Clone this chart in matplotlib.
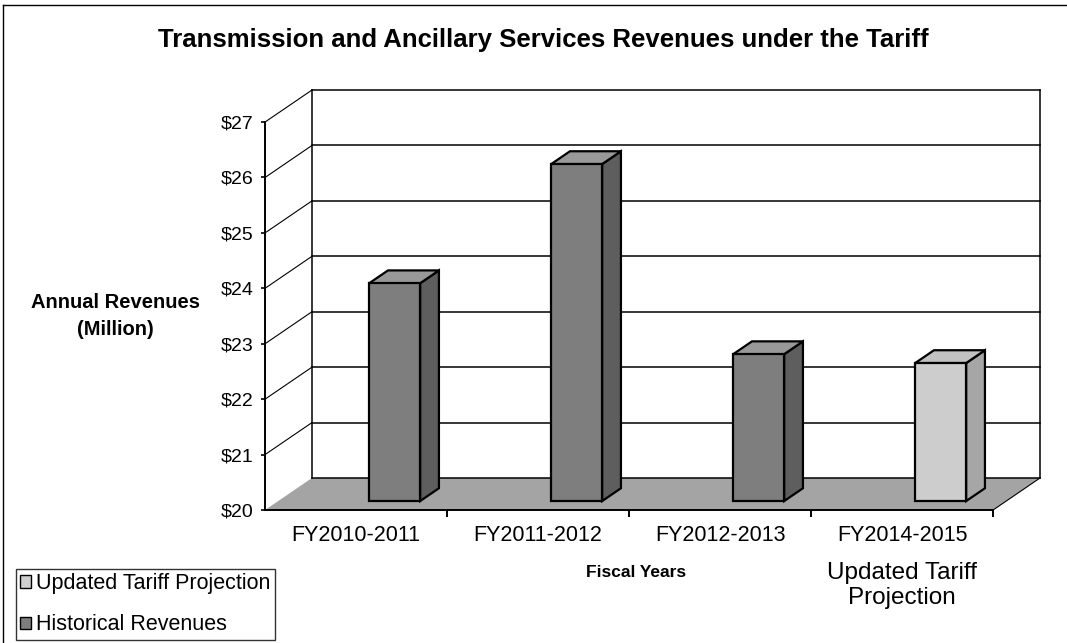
import matplotlib
matplotlib.use("Agg")
import matplotlib.pyplot as plt
from matplotlib.patches import Polygon, Patch
from matplotlib.lines import Line2D
from matplotlib.transforms import blended_transform_factory

plt.rcParams["font.family"] = ["Liberation Sans", "DejaVu Sans"]

# data
categories = ["FY2010-2011", "FY2011-2012", "FY2012-2013", "FY2014-2015"]
revenues = [23.93, 26.08, 22.65, 22.49]
series = ["Historical Revenues", "Historical Revenues", "Historical Revenues",
          "Updated Tariff Projection"]
y_ticks = [20, 21, 22, 23, 24, 25, 26, 27]
y_labels = ["$20", "$21", "$22", "$23", "$24", "$25", "$26", "$27"]

# shading for the fake 3d faces: front, side, top
faces = {
    "Historical Revenues": ("#7e7e7e", "#5e5e5e", "#999999"),
    "Updated Tariff Projection": ("#cdcdcd", "#a6a6a6", "#c2c2c2"),
}

DX, DY = 0.258, 0.578      # depth offset of the back wall, in data units
D0, D1 = 0.28, 0.68        # depth of bar front / back face
BAR_OFF, BAR_W = 0.5, 0.28
YMIN, YMAX = y_ticks[0], y_ticks[-1]

fig = plt.figure(figsize=(10.67, 6.43), dpi=100)
ax = fig.add_axes([0.2484, 0.2068, 0.6823, 0.6034])
n = len(categories)
ax.set_xlim(0, n)
ax.set_ylim(YMIN, YMAX)
ax.patch.set_visible(False)
for s in ["top", "right"]:
    ax.spines[s].set_visible(False)
ax.spines["left"].set_linewidth(1.4)
ax.spines["bottom"].set_linewidth(1.4)
ax.spines["left"].set_zorder(6)
ax.spines["bottom"].set_zorder(6)

lw = 1.1
# floor
floor = Polygon([(0, YMIN), (n, YMIN), (n + DX, YMIN + DY), (DX, YMIN + DY)],
                closed=True, facecolor="#a4a4a4", edgecolor="none",
                clip_on=False, zorder=1)
ax.add_patch(floor)

# back wall grid and left wall diagonals
for t in y_ticks:
    ax.plot([DX, n + DX], [t + DY, t + DY], color="black", lw=lw,
            clip_on=False, zorder=2)
    if t > YMIN:
        ax.plot([0, DX], [t, t + DY], color="black", lw=0.8,
                clip_on=False, zorder=2)
ax.plot([DX, DX], [YMIN + DY, YMAX + DY], color="black", lw=lw,
        clip_on=False, zorder=2)
ax.plot([n + DX, n + DX], [YMIN + DY, YMAX + DY], color="black", lw=lw,
        clip_on=False, zorder=2)
ax.plot([n, n + DX], [YMIN, YMIN + DY], color="black", lw=0.8,
        clip_on=False, zorder=2)

# bars
for i, (v, s) in enumerate(zip(revenues, series)):
    front, side, top = faces[s]
    x0 = i + BAR_OFF
    x1 = x0 + BAR_W
    f = [(x0 + D0 * DX, YMIN + D0 * DY), (x1 + D0 * DX, YMIN + D0 * DY),
         (x1 + D0 * DX, v + D0 * DY), (x0 + D0 * DX, v + D0 * DY)]
    sd = [(x1 + D0 * DX, YMIN + D0 * DY), (x1 + D1 * DX, YMIN + D1 * DY),
          (x1 + D1 * DX, v + D1 * DY), (x1 + D0 * DX, v + D0 * DY)]
    tp = [(x0 + D0 * DX, v + D0 * DY), (x1 + D0 * DX, v + D0 * DY),
          (x1 + D1 * DX, v + D1 * DY), (x0 + D1 * DX, v + D1 * DY)]
    for pts, c in [(sd, side), (tp, top), (f, front)]:
        ax.add_patch(Polygon(pts, closed=True, facecolor=c, edgecolor="black",
                             lw=1.6, joinstyle="miter", clip_on=False, zorder=4))

# axes ticks
ax.set_yticks(y_ticks)
ax.set_yticklabels(y_labels, fontsize=14)
ax.tick_params(axis="y", direction="out", length=3, width=1.2, pad=5)
ax.set_xticks(range(1, n + 1))
ax.set_xticklabels([])
ax.tick_params(axis="x", which="major", direction="out", length=5, width=1.4)
ax.set_xticks([i + 0.5 for i in range(n)], minor=True)
ax.set_xticklabels(categories, minor=True, fontsize=15.5)
ax.tick_params(axis="x", which="minor", length=0, pad=11)

tr = blended_transform_factory(ax.transData, fig.transFigure)
ax.text(n - 0.5, 0.089, "Updated Tariff\nProjection", transform=tr,
        ha="center", va="center", fontsize=17.5, linespacing=1.15)

# titles
fig.text(0.509, 0.938, "Transmission and Ancillary Services Revenues under the Tariff",
         ha="center", va="center", fontsize=18.5, fontweight="bold")
fig.text(0.108, 0.530, "Annual Revenues", ha="center", va="center",
         fontsize=14.5, fontweight="bold")
fig.text(0.108, 0.487, "(Million)", ha="center", va="center",
         fontsize=14.5, fontweight="bold")
fig.text(0.596, 0.110, "Fiscal Years", ha="center", va="center",
         fontsize=12.5, fontweight="bold")

# legend
handles = [Patch(facecolor=faces[k][0], edgecolor="black", lw=1.0)
           for k in ["Updated Tariff Projection", "Historical Revenues"]]
leg = fig.legend(handles, ["Updated Tariff Projection", "Historical Revenues"],
                 loc="lower left", bbox_to_anchor=(0.012, 0.0),
                 fontsize=15.5, frameon=True, fancybox=False,
                 handlelength=0.5, handleheight=0.5, handletextpad=0.25,
                 borderpad=0.2, labelspacing=0.95, borderaxespad=0.15)
leg.get_frame().set_edgecolor("black")
leg.get_frame().set_linewidth(1.0)

# outer chart border (left and top)
fig.add_artist(Line2D([0.003, 0.003], [0.0, 0.992], transform=fig.transFigure,
                      color="black", lw=1.0))
fig.add_artist(Line2D([0.003, 1.0], [0.992, 0.992], transform=fig.transFigure,
                      color="black", lw=1.0))

fig.savefig("out.png", dpi=100)
